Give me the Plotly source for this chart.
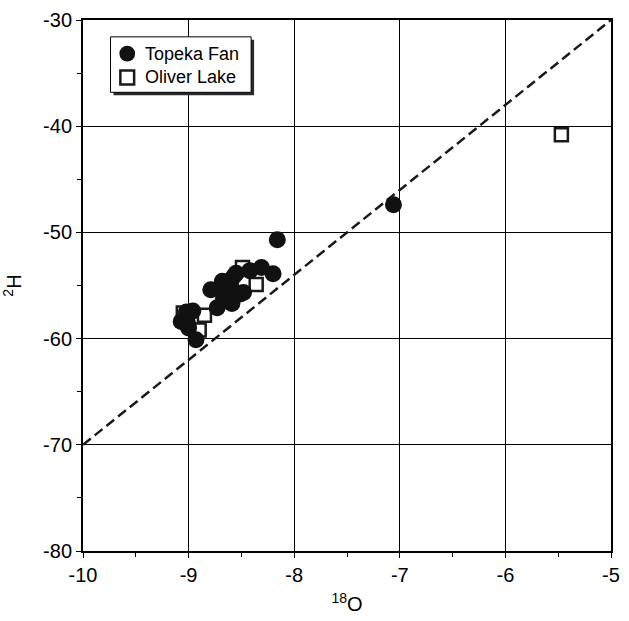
import plotly.graph_objects as go

# Isotope data: delta-18O (x) and delta-2H (y), per mil
topeka_x = [-7.06, -8.16, -8.20, -8.31, -8.42, -8.55, -8.57, -8.68, -8.79, -8.60,
            -8.48, -8.51, -8.65, -8.59, -8.73, -8.67, -9.02, -8.96, -9.07, -9.01,
            -8.93, -9.00]
topeka_y = [-47.4, -50.7, -53.9, -53.3, -53.6, -53.85, -54.1, -54.6, -55.4, -55.0,
            -55.65, -55.8, -55.8, -56.7, -57.1, -56.2, -57.5, -57.4, -58.4, -58.5,
            -60.1, -59.0]

oliver_x = [-8.49, -8.36, -8.85, -9.05, -8.90, -5.47]
oliver_y = [-53.3, -54.9, -57.8, -57.6, -59.2, -40.8]

# Global meteoric water line: dH = 8 * dO + 10
gmwl_x = [-10, -5]
gmwl_y = [8 * v + 10 for v in gmwl_x]

x_ticks = [-10, -9, -8, -7, -6, -5]
y_ticks = [-80, -70, -60, -50, -40, -30]

series_names = ["Topeka Fan", "Oliver Lake"]

FONT = "Liberation Sans, Arial, sans-serif"
INK = "#111111"

fig = go.Figure()

fig.add_trace(go.Scatter(
    x=gmwl_x, y=gmwl_y, mode="lines",
    line=dict(color="#1a1a1a", width=2.5, dash="10px,5px"),
    showlegend=False, hoverinfo="skip",
))

fig.add_trace(go.Scatter(
    x=oliver_x, y=oliver_y, mode="markers", name=series_names[1],
    marker=dict(symbol="square-open", size=13, color="#1a1a1a",
                line=dict(width=2.5, color="#1a1a1a")),
    showlegend=False,
))

fig.add_trace(go.Scatter(
    x=topeka_x, y=topeka_y, mode="markers", name=series_names[0],
    marker=dict(symbol="circle", size=17, color=INK, line=dict(width=0)),
    showlegend=False,
))

# Plot area in pixels: left 83, right 620, top 15, bottom 551
W, H = 629, 621
L, R, T, B = 83, 9, 15, 70
pw, ph = W - L - R, H - T - B


def px_x(px):
    return (px - L) / pw


def px_y(py):
    return (H - B - py) / ph


# Key box with drop shadow, drawn in pixel positions on the paper
box_l, box_t, box_r, box_b = 111, 32, 254, 88
shadow = 3
fig.add_shape(type="rect", xref="paper", yref="paper", layer="above",
              x0=px_x(box_l + shadow), x1=px_x(box_r + shadow),
              y0=px_y(box_b + shadow), y1=px_y(box_t + shadow),
              fillcolor="#2a2a2a", line=dict(width=0))
fig.add_shape(type="rect", xref="paper", yref="paper", layer="above",
              x0=px_x(box_l), x1=px_x(box_r), y0=px_y(box_b), y1=px_y(box_t),
              fillcolor="white", line=dict(color="black", width=1))

row_y = [49, 73]
sym_x = 128
# filled circle symbol
fig.add_shape(type="circle", xref="paper", yref="paper", layer="above",
              x0=px_x(sym_x - 8), x1=px_x(sym_x + 8),
              y0=px_y(row_y[0] + 8), y1=px_y(row_y[0] - 8),
              fillcolor=INK, line=dict(width=0))
# open square symbol
fig.add_shape(type="rect", xref="paper", yref="paper", layer="above",
              x0=px_x(sym_x - 7), x1=px_x(sym_x + 7),
              y0=px_y(row_y[1] + 7), y1=px_y(row_y[1] - 7),
              fillcolor="white", line=dict(color="#1a1a1a", width=2.5))

for name, ry in zip(series_names, row_y):
    fig.add_annotation(
        x=px_x(144), y=px_y(ry), xref="paper", yref="paper",
        text=name, showarrow=False, xanchor="left", yanchor="middle",
        font=dict(family=FONT, size=18, color="black"),
    )

axis_common = dict(
    showline=True, linecolor="black", linewidth=2, mirror=True,
    showgrid=True, gridcolor="black", gridwidth=1,
    ticks="outside", ticklen=5, tickcolor="black", tickwidth=1,
    zeroline=False,
    tickfont=dict(family=FONT, size=20, color="black"),
)

fig.update_layout(
    width=W, height=H,
    margin=dict(l=L, r=R, t=T, b=B),
    paper_bgcolor="white", plot_bgcolor="white",
    font=dict(family=FONT, color="black"),
    showlegend=False,
    xaxis=dict(
        range=[-10, -5], tickvals=x_ticks, ticktext=[str(v) for v in x_ticks],
        minor=dict(dtick=0.5, ticks="outside", ticklen=4, tickcolor="black",
                   showgrid=False),
        title=dict(text="<sup>18</sup>O", font=dict(family=FONT, size=20),
                   standoff=12),
        **axis_common,
    ),
    yaxis=dict(
        range=[-80, -30], tickvals=y_ticks, ticktext=[str(v) for v in y_ticks],
        minor=dict(dtick=5, ticks="outside", ticklen=4, tickcolor="black",
                   showgrid=False),
        title=dict(text="<sup>2</sup>H", font=dict(family=FONT, size=20),
                   standoff=16),
        **axis_common,
    ),
)

fig.write_html("out.html")
